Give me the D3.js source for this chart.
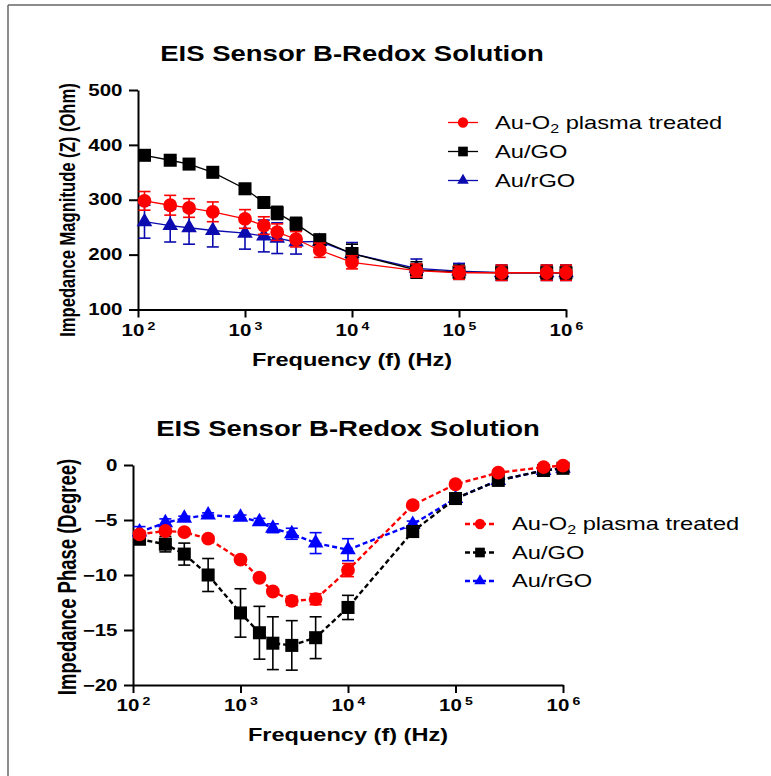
<!DOCTYPE html>
<html>
<head>
<meta charset="utf-8">
<script src="https://cdn.jsdelivr.net/npm/d3@7"></script>
<style>
  body { margin: 0; background: #fff; }
  svg { display: block; }
  text { font-family: "Liberation Sans", Arial, sans-serif; fill: #000; }
</style>
</head>
<body>
<svg id="chart" width="771" height="776"></svg>
<script>
// frequencies (Hz), same for both panels
var freqs = [115, 200, 300, 500, 1000, 1500, 2000, 3000, 5000, 10000, 40000, 100000, 250000, 660000, 1000000];
var freqTicks = [1e2, 1e3, 1e4, 1e5, 1e6];

// top panel: impedance magnitude (Ohm)
var magO2 = [298, 290, 285, 278, 265, 253, 241, 228, 208, 186, 171, 167, 167, 167, 167];
var magO2Err = [17, 18, 17, 18, 17, 16, 15, 14, 13, 12, 12, 12, 14, 14, 14];
var magGO = [381, 372, 365, 350, 320, 295, 276, 256, 227, 202, 172, 168, 167, 167, 167];
var magGOErr = [4, 4, 4, 4, 5, 8, 12, 12, 10, 17, 15, 13, 13, 13, 13];
var magRGO = [260, 253, 249, 244, 239, 234, 230, 223, 224, 202, 175, 170, 167, 167, 167];
var magRGOErr = [30, 30, 30, 30, 29, 29, 28, 22, 12, 20, 17, 14, 14, 14, 14];
var magTicks = [100, 200, 300, 400, 500];

// bottom panel: impedance phase (degree)
var phO2 = [-6.3, -6.0, -6.1, -6.7, -8.6, -10.25, -11.5, -12.35, -12.2, -9.55, -3.65, -1.75, -0.7, -0.2, -0.05];
var phO2Err = [0.3, 0.2, 0.2, 0.2, 0.2, 0.2, 0.2, 0.4, 0.5, 0.6, 0.2, 0.1, 0.1, 0.1, 0.1];
var phGO = [-6.75, -7.2, -8.1, -10.0, -13.45, -15.25, -16.2, -16.4, -15.7, -12.95, -6.05, -3.05, -1.4, -0.5, -0.3];
var phGOErr = [0.3, 0.7, 1.0, 1.5, 2.2, 2.4, 2.4, 2.25, 1.9, 1.1, 0.3, 0.2, 0.1, 0.1, 0.1];
var phRGO = [-6.1, -5.25, -4.85, -4.55, -4.75, -5.15, -5.75, -6.25, -7.1, -7.7, -5.4, -3.05, -1.4, -0.5, -0.3];
var phRGOErr = [0.5, 0.35, 0.2, 0.2, 0.2, 0.3, 0.4, 0.5, 0.95, 1.0, 0.3, 0.2, 0.1, 0.1, 0.1];
var phTicks = [-20, -15, -10, -5, 0];

// legend order: O2, GO, rGO
var seriesNames = ["Au-O\u2082 plasma treated", "Au/GO", "Au/rGO"];

var SX = 1.28; // the original figure is stretched sideways, text too
var svg = d3.select("#chart");

// outer frame (only top and left edges visible)
svg.append("line").attr("x1", 8).attr("y1", 5).attr("x2", 771).attr("y2", 5)
    .attr("stroke", "#666").attr("stroke-width", 1.5);
svg.append("line").attr("x1", 8).attr("y1", 5).attr("x2", 8).attr("y2", 776)
    .attr("stroke", "#666").attr("stroke-width", 1.5);

function stretchedText(parent, x, y, str, size, weight, anchor) {
    return parent.append("text")
        .attr("x", x / SX).attr("y", y)
        .attr("transform", "scale(" + SX + ",1)")
        .attr("font-size", size)
        .attr("font-weight", weight)
        .attr("text-anchor", anchor)
        .text(str);
}

function drawPanel(cfg) {
    var g = svg.append("g");
    var x = d3.scaleLog().domain([1e2, 1e6]).range([cfg.x0, cfg.x1]);
    var y = d3.scaleLinear().domain(cfg.yDomain).range([cfg.yBottom, cfg.yTop]);

    // title
    stretchedText(g, cfg.titleX, cfg.titleY, "EIS Sensor B-Redox Solution", 21.5, "bold", "middle");

    // x axis
    var xa = g.append("g")
        .attr("transform", "translate(0," + cfg.yBottom + ")")
        .call(d3.axisBottom(x).tickValues(freqTicks).tickSize(8).tickSizeOuter(0).tickPadding(7));
    xa.selectAll(".tick text").each(function (d) {
        var t = d3.select(this).text(null)
            .attr("font-size", 16).attr("font-weight", "bold")
            .attr("font-family", "Liberation Sans, Arial, sans-serif")
            .attr("transform", "scale(" + SX + ",1)");
        t.append("tspan").text("10");
        t.append("tspan").attr("dy", -6).attr("dx", 2.5).attr("font-size", 11)
            .text(Math.round(Math.log10(d)));
    });

    // y axis
    var ya = g.append("g")
        .attr("transform", "translate(" + cfg.x0 + ",0)")
        .call(d3.axisLeft(y).tickValues(cfg.yTicks).tickSize(9).tickSizeOuter(0));
    ya.selectAll(".tick text")
        .attr("x", -15.5 / SX)
        .attr("font-size", 16).attr("font-weight", "bold")
        .attr("font-family", "Liberation Sans, Arial, sans-serif")
        .attr("transform", "scale(" + SX + ",1)");

    g.selectAll(".domain, .tick line").attr("stroke", "#000").attr("stroke-width", 2);

    // axis titles
    stretchedText(g, cfg.xTitleX, cfg.xTitleY, "Frequency (f) (Hz)", 18.4, "bold", "middle");
    g.append("text")
        .attr("transform", "translate(" + cfg.yTitleX + "," + cfg.yTitleY + ") rotate(-90) scale(1,1.38)")
        .attr("font-size", cfg.yTitleSize).attr("font-weight", "bold")
        .attr("text-anchor", "middle")
        .text(cfg.yTitle);

    // series, drawn rGO first so O2 sits on top
    [2, 1, 0].forEach(function (k) {
        var s = cfg.series[k];
        var pts = freqs.map(function (f, i) { return { f: f, v: s.values[i], e: s.errs[i] }; });
        var sg = g.append("g");

        // error bars
        var eb = sg.selectAll("g.eb").data(pts).enter().append("g").attr("class", "eb")
            .attr("stroke", s.color).attr("stroke-width", 1.6);
        eb.append("line")
            .attr("x1", function (d) { return x(d.f); }).attr("x2", function (d) { return x(d.f); })
            .attr("y1", function (d) { return y(d.v - d.e); }).attr("y2", function (d) { return y(d.v + d.e); });
        [-1, 1].forEach(function (sgn) {
            eb.append("line")
                .attr("x1", function (d) { return x(d.f) - 6; }).attr("x2", function (d) { return x(d.f) + 6; })
                .attr("y1", function (d) { return y(d.v + sgn * d.e); }).attr("y2", function (d) { return y(d.v + sgn * d.e); });
        });

        // connecting line
        sg.append("path").datum(pts)
            .attr("fill", "none").attr("stroke", s.color)
            .attr("stroke-width", cfg.lineWidth)
            .attr("stroke-dasharray", cfg.dash)
            .attr("d", d3.line().x(function (d) { return x(d.f); }).y(function (d) { return y(d.v); }));

        // markers
        sg.selectAll("path.mk").data(pts).enter().append("path").attr("class", "mk")
            .attr("transform", function (d) { return "translate(" + x(d.f) + "," + y(d.v) + ")"; })
            .attr("d", d3.symbol().type(s.symbol).size(s.size))
            .attr("fill", s.color);
    });

    // legend
    cfg.series.forEach(function (s, k) {
        var ly = cfg.legY + k * cfg.legGap;
        g.append("line")
            .attr("x1", cfg.legX).attr("x2", cfg.legX + 30)
            .attr("y1", ly).attr("y2", ly)
            .attr("stroke", s.color).attr("stroke-width", cfg.lineWidth)
            .attr("stroke-dasharray", cfg.dash);
        g.append("path")
            .attr("transform", "translate(" + (cfg.legX + 15) + "," + ly + ")")
            .attr("d", d3.symbol().type(s.symbol).size(s.size * 0.55))
            .attr("fill", s.color);
        var t = stretchedText(g, cfg.legX + 47, ly + 6.5, null, 18.5, "normal", "start");
        if (k === 0) {
            t.append("tspan").text("Au-O");
            t.append("tspan").attr("dy", 4).attr("font-size", 12.5).text("2");
            t.append("tspan").attr("dy", -4).text(" plasma treated");
        } else {
            t.text(seriesNames[k]);
        }
    });
}

drawPanel({
    x0: 138, x1: 566, yTop: 90, yBottom: 309.5,
    yDomain: [100, 500], yTicks: magTicks,
    titleX: 352, titleY: 61,
    xTitleX: 352, xTitleY: 366,
    yTitle: "Impedance Magnitude (Z) (Ohm)", yTitleX: 75, yTitleY: 210, yTitleSize: 16.6,
    lineWidth: 1.3, dash: null,
    legX: 448, legY: 122.5, legGap: 29,
    series: [
        { values: magO2, errs: magO2Err, color: "#ff0000", symbol: d3.symbolCircle, size: 150 },
        { values: magGO, errs: magGOErr, color: "#000", symbol: d3.symbolSquare, size: 170 },
        { values: magRGO, errs: magRGOErr, color: "#0b0bb0", symbol: d3.symbolTriangle, size: 105 }
    ]
});

drawPanel({
    x0: 133, x1: 563, yTop: 465, yBottom: 685,
    yDomain: [-20, 0], yTicks: phTicks,
    titleX: 348, titleY: 436,
    xTitleX: 348, xTitleY: 741,
    yTitle: "Impedance Phase (Degree)", yTitleX: 76, yTitleY: 577, yTitleSize: 18.5,
    lineWidth: 2.4, dash: "5,3",
    legX: 465, legY: 524, legGap: 28.5,
    series: [
        { values: phO2, errs: phO2Err, color: "#ff0000", symbol: d3.symbolCircle, size: 150 },
        { values: phGO, errs: phGOErr, color: "#000", symbol: d3.symbolSquare, size: 170 },
        { values: phRGO, errs: phRGOErr, color: "#0000ff", symbol: d3.symbolTriangle, size: 105 }
    ]
});
</script>
</body>
</html>
